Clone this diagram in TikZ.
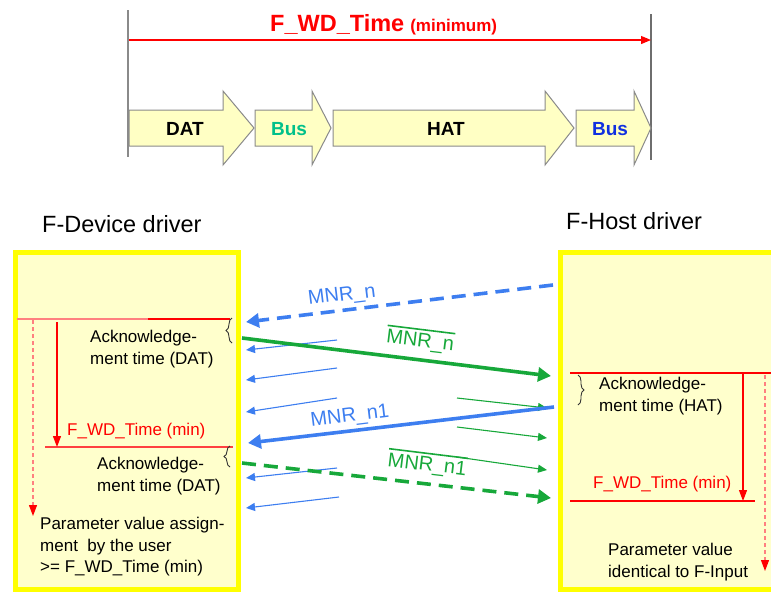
\documentclass[tikz,border=0pt]{standalone}
\usepackage{fontspec}
\setmainfont{Liberation Sans}
\usetikzlibrary{arrows.meta,decorations.pathreplacing}
\definecolor{boxfill}{HTML}{FFFFCC}
\definecolor{boxedge}{HTML}{FFFF00}
\definecolor{arrfill}{HTML}{FFFFC4}
\definecolor{arredge}{HTML}{8A8A8A}
\definecolor{mblue}{HTML}{3D7EF0}
\definecolor{mgreen}{HTML}{17A83A}
\definecolor{busgreen}{HTML}{00C08A}
\definecolor{busblue}{HTML}{1030E0}
\definecolor{salmon}{HTML}{FF8080}
\begin{document}
\begin{tikzpicture}[x=1pt,y=-1pt,
  txt/.style={inner sep=0pt, font=\fontsize{17}{21.5}\selectfont, align=left, anchor=north west},
  redtxt/.style={txt, text=red},
  title/.style={inner sep=0pt, font=\fontsize{23.5}{28}\selectfont, anchor=base west},
  tarrow/.style={draw=arredge, fill=arrfill, line width=1pt},
  tlabel/.style={inner sep=0pt, font=\fontsize{19}{22}\selectfont\bfseries},
  drvbox/.style={draw=boxedge, fill=boxfill, line width=5pt},
  bigarrow/.style={line width=3.6pt, -{Triangle[length=13pt,width=14pt]}},
  smallarrow/.style={line width=1.1pt, -{Triangle[length=9pt,width=8pt]}},
  bigdash/.style={dash pattern=on 14pt off 8pt},
  redarrow/.style={red, line width=1.2pt, -{Triangle[length=11pt,width=8pt]}},
  reddash/.style={salmon, line width=1.2pt, dash pattern=on 4pt off 3pt, -{Triangle[length=11pt,width=8pt,fill=red,color=red]}},
  bracestyle/.style={decorate, decoration={brace, amplitude=6pt}, line width=0.9pt, black!80},
  mlabel/.style={inner sep=0pt, font=\fontsize{20}{24}\selectfont},
  barnode/.style={mlabel, inner xsep=0pt, inner ysep=3.5pt, text=mgreen, rotate=-7},
  barline/.style={mgreen, line width=1.6pt}
]
\useasboundingbox (0,0) rectangle (771,592);

% ---------- top timeline ----------
\draw[arredge, line width=1.2pt] (128,10) -- (128,157);
\draw[arredge!80!black, line width=1.2pt] (651,14) -- (651,160);
\coordinate (tl) at (129,40);
\coordinate (tr) at (651,40);
\draw[red, line width=1.2pt, -{Triangle[length=10pt,width=8pt]}] (tl) -- (tr);
\node[anchor=base west, inner sep=0pt, text=red, font=\bfseries] (ftitle) at (270,31)
  {{\fontsize{23.5}{28}\selectfont F\_WD\_Time}\hspace{6pt}{\fontsize{17}{20}\selectfont(minimum)}};

\draw[tarrow] (129,110) -- (223,110) -- (223,91) -- (254,128) -- (223,165) -- (223,146) -- (129,146) -- cycle;
\draw[tarrow] (255,110) -- (312,110) -- (312,91) -- (331,128) -- (312,165) -- (312,146) -- (255,146) -- cycle;
\draw[tarrow] (333,110) -- (545,110) -- (545,91) -- (574,128) -- (545,165) -- (545,146) -- (333,146) -- cycle;
\draw[tarrow] (576,110) -- (634,110) -- (634,91) -- (651,128) -- (634,165) -- (634,146) -- (576,146) -- cycle;
\node[tlabel] (dat) at (185,129) {DAT};
\node[tlabel, text=busgreen] (bus1) at (289,129) {Bus};
\node[tlabel] (hat) at (446,129) {HAT};
\node[tlabel, text=busblue] (bus2) at (610,129) {Bus};

% ---------- driver titles ----------
\node[title] (devtitle) at (42,232) {F-Device driver};
\node[title] (hosttitle) at (566,229) {F-Host driver};

% ---------- boxes ----------
\draw[drvbox] (15.5,252.5) rectangle (238.5,589.5);
\draw[drvbox] (560.5,252.5) rectangle (800,589.5);

% ---------- left box content ----------
\coordinate (lh1a) at (17,319);
\coordinate (lh1m) at (148,319);
\coordinate (lh1b) at (230,319);
\draw[salmon, line width=1.2pt] (lh1a) -- (lh1m);
\draw[red, line width=1.2pt] (lh1m) -- (lh1b);
\coordinate (lh2a) at (45,447);
\coordinate (lh2b) at (233,447);
\draw[red!75, line width=1.2pt] (lh2a) -- (lh2b);

\coordinate (lda) at (33,320);
\coordinate (ldb) at (33,516);
\draw[reddash] (lda) -- (ldb);
\coordinate (lsa) at (57,322);
\coordinate (lsb) at (57,447);
\draw[redarrow] (lsa) -- (lsb);

\coordinate (lb1a) at (232,343);
\coordinate (lb1b) at (232,318);
\draw[bracestyle] (lb1a) -- (lb1b);
\coordinate (lb2a) at (230,467);
\coordinate (lb2b) at (230,446);
\draw[bracestyle] (lb2a) -- (lb2b);

\node[txt] (ack1) at (90,330) {Acknowledge-\\ment time (DAT)};
\node[redtxt] (fwdl) at (67,423) {F\_WD\_Time (min)};
\node[txt] (ack2) at (97,457) {Acknowledge-\\ment time (DAT)};
\node[txt] (param1) at (40,517) {Parameter value assign-\\ment\ \ by the user\\>= F\_WD\_Time (min)};

% ---------- right box content ----------
\coordinate (rh1a) at (570,373);
\coordinate (rh1b) at (771,373);
\draw[red, line width=1.2pt] (rh1a) -- (rh1b);
\coordinate (rh2a) at (570,501);
\coordinate (rh2b) at (755,501);
\draw[red, line width=1.2pt] (rh2a) -- (rh2b);
\coordinate (rsa) at (743,374);
\coordinate (rsb) at (743,501);
\draw[redarrow] (rsa) -- (rsb);
\coordinate (rda) at (765,375);
\coordinate (rdb) at (765,571);
\draw[reddash] (rda) -- (rdb);
\coordinate (rba) at (578,375);
\coordinate (rbb) at (578,405);
\draw[bracestyle] (rba) -- (rbb);

\node[txt] (ack3) at (599,377) {Acknowledge-\\ment time (HAT)};
\node[redtxt] (fwdr) at (593,476) {F\_WD\_Time (min)};
\node[txt] (param2) at (608,543) {Parameter value\\identical to F-Input};

% ---------- messages ----------
\foreach \i/\ya/\yb/\xa in {1/340/350/337, 2/368/380/337, 3/398/412/337, 4/468/478/337, 5/497/508/339}{
  \coordinate (tba\i) at (\xa,\ya);
  \coordinate (tbb\i) at (246,\yb);
  \draw[smallarrow, mblue] (tba\i) -- (tbb\i);
}
\foreach \i/\ya/\yb in {1/398/408, 2/427/438, 3/457/470}{
  \coordinate (tga\i) at (457,\ya);
  \coordinate (tgb\i) at (547,\yb);
  \draw[smallarrow, mgreen] (tga\i) -- (tgb\i);
}

\coordinate (bn1) at (553,285);
\coordinate (bn2) at (246,322);
\draw[bigarrow, bigdash, mblue] (bn1) -- (bn2);
\coordinate (gn1) at (242,338);
\coordinate (gn2) at (551,376);
\draw[bigarrow, mgreen] (gn1) -- (gn2);
\coordinate (bm1) at (554,407);
\coordinate (bm2) at (248,443);
\draw[bigarrow, mblue] (bm1) -- (bm2);
\coordinate (gm1) at (242,463);
\coordinate (gm2) at (551,498);
\draw[bigarrow, bigdash, mgreen] (gm1) -- (gm2);

\node[mlabel, text=mblue, rotate=7] (lmn) at (342,296) {MNR\_n};
\node[mlabel, text=mblue, rotate=7] (lmn1) at (350,417) {MNR\_n1};
\node[barnode] (lmnb) at (420,342) {MNR\_n};
\draw[barline] (lmnb.north west) -- (lmnb.north east);
\node[barnode] (lmn1b) at (427,466) {MNR\_n1};
\draw[barline] (lmn1b.north west) -- (lmn1b.north east);
\end{tikzpicture}
\end{document}
